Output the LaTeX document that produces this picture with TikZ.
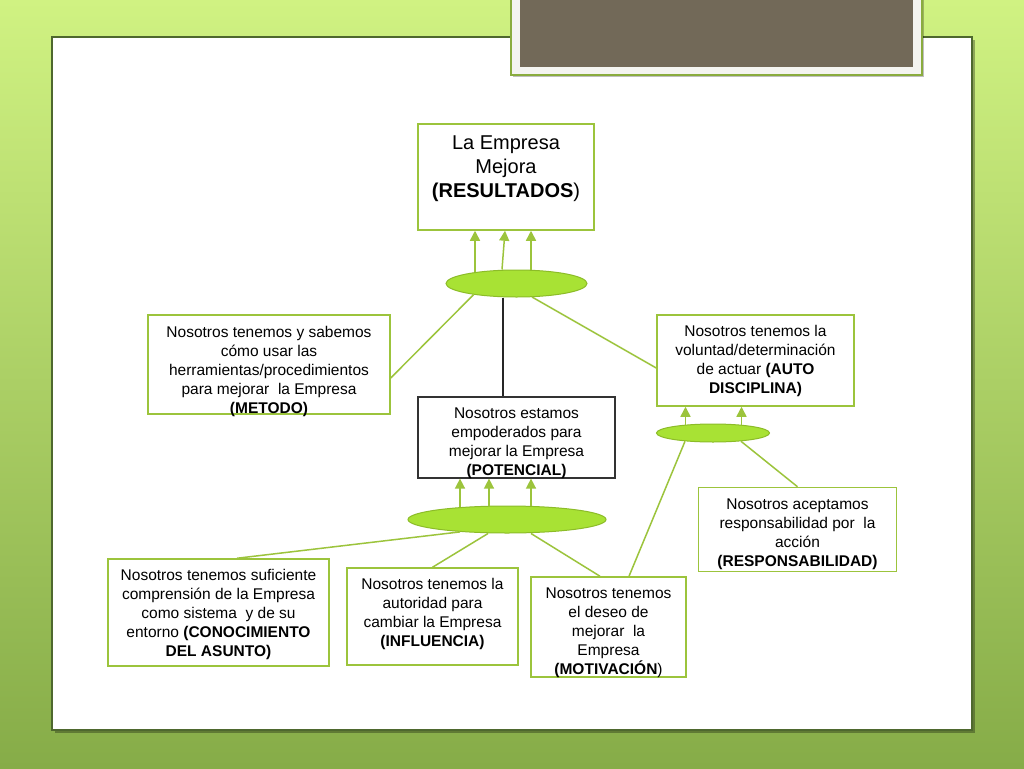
\documentclass[tikz,border=0pt]{standalone}
\usepackage{fontspec}
\setmainfont{Liberation Sans}
\usepackage{xcolor}
\usepackage{tikz}
\usetikzlibrary{
arrows.meta,
shapes.geometric,
calc
}

\definecolor{bgtop}{RGB}{208,242,130}
\definecolor{bgbottom}{RGB}{134,172,72}
\definecolor{panelline}{RGB}{78,104,46}
\definecolor{framegreen}{RGB}{138,172,62}
\definecolor{framewhite}{RGB}{244,244,240}
\definecolor{photo}{RGB}{114,105,88}
\definecolor{linegreen}{RGB}{156,196,60}
\definecolor{ovalfill}{RGB}{168,226,52}
\definecolor{ovalline}{RGB}{140,188,40}

\begin{document}
\begin{tikzpicture}[
x=1pt,y=-1pt,
box/.style={
draw=linegreen,
line width=1.5pt,
fill=white,
align=center,
inner sep=1pt,
font=\fontsize{15.5}{19}\selectfont
},
oval/.style={
ellipse,
draw=ovalline,
line width=1pt,
fill=ovalfill,
inner sep=0pt
},
arrow/.style={-{Triangle[width=10pt,length=10pt]},draw=linegreen,fill=linegreen,line width=1.5pt},
link/.style={draw=linegreen,line width=1.5pt}
]

\useasboundingbox (0,0) rectangle (1024,768);

% slide
\shade[top color=bgtop,bottom color=bgbottom] (0,0) rectangle (1024,768);
\fill[black,opacity=0.3] (55,40) rectangle (975,733);
\draw[fill=white,draw=panelline,line width=1.5pt] (52,37) rectangle (972,730);
\fill[black,opacity=0.25] (513,-5) rectangle (924,77);
\draw[fill=framewhite,draw=framegreen,line width=1.5pt] (511,-5) rectangle (922,75);
\fill[photo] (520,-5) rectangle (913,67);

% boxes
\node[box,minimum width=176pt,minimum height=106pt,font=\fontsize{20}{24}\selectfont] (res) at (506,177)
  {La Empresa\\ Mejora\\ \textbf{(RESULTADOS})\\[-2.5pt]\mbox{}};
\node[box,minimum width=242pt,minimum height=99pt] (met) at (269,364.5)
  {Nosotros tenemos y sabemos\\ cómo usar las\\ herramientas/procedimientos\\ para mejorar\ \ la Empresa\\ \textbf{(METODO)}\\[-29pt]\mbox{}};
\node[box,draw=black!80,line width=1.2pt,minimum width=197pt,minimum height=81pt] (pot) at (516.5,437.5)
  {Nosotros estamos\\ empoderados para\\ mejorar la Empresa\\ \textbf{(POTENCIAL)}\\[-28pt]\mbox{}};
\node[box,minimum width=197pt,minimum height=91pt] (aut) at (755.5,360.5)
  {Nosotros tenemos la\\ voluntad/determinación\\ de actuar \textbf{(AUTO}\\ \textbf{DISCIPLINA)}};
\node[box,minimum width=198pt,minimum height=84pt] (resp) at (797.5,529.5)
  {Nosotros aceptamos\\ responsabilidad por\ \ la\\ acción\\ \textbf{(RESPONSABILIDAD)}\\[-25pt]\mbox{}};
\node[box,minimum width=221pt,minimum height=107pt] (con) at (218.5,612.5)
  {Nosotros tenemos suficiente\\ comprensión de la Empresa\\ como sistema\ \ y de su\\ entorno \textbf{(CONOCIMIENTO}\\ \textbf{DEL ASUNTO)}\\[-20pt]\mbox{}};
\node[box,minimum width=171pt,minimum height=97pt] (inf) at (432.5,616.5)
  {Nosotros tenemos la\\ autoridad para\\ cambiar la Empresa\\ \textbf{(INFLUENCIA)}\\[-10pt]\mbox{}};
\node[box,minimum width=155pt,minimum height=100pt] (mot) at (608.5,627)
  {Nosotros tenemos\\ el deseo de\\ mejorar\ \ la\\ Empresa\\ \textbf{(MOTIVACIÓN})\\[-27pt]\mbox{}};

% ovals
\node[oval,minimum width=141pt,minimum height=27pt] (e1) at (516.5,283.5) {};
\node[oval,minimum width=113pt,minimum height=18pt] (e2) at (713,433) {};
\node[oval,minimum width=198pt,minimum height=27pt] (e3) at (507,519.5) {};

% arrows up
\draw[arrow] ([xshift=-41.5pt,yshift=-2.5pt]e1.north) -- ([xshift=-31pt]res.south);
\draw[arrow] ([xshift=-14.5pt]e1.north) -- ([xshift=-1pt]res.south);
\draw[arrow] ([xshift=14.5pt]e1.north) -- ([xshift=25pt]res.south);

\draw[arrow] ([xshift=-27.5pt,yshift=-1.2pt]e2.north) -- ([xshift=-70pt]aut.south);
\draw[arrow] ([xshift=28.5pt,yshift=-1.2pt]e2.north) -- ([xshift=-14pt]aut.south);

\draw[arrow] ([xshift=-47pt,yshift=-1.6pt]e3.north) -- ([xshift=-56.5pt]pot.south);
\draw[arrow] ([xshift=-18pt]e3.north) -- ([xshift=-27.5pt]pot.south);
\draw[arrow] ([xshift=24pt]e3.north) -- ([xshift=14.5pt]pot.south);

% links
\draw[link] ([xshift=-43pt,yshift=2.8pt]e1.south) -- ([yshift=-13.5pt]met.east);
\draw[black!85,line width=1.5pt] ([xshift=-13.5pt]e1.south) -- ([xshift=-13.5pt]pot.north);
\draw[link] ([xshift=15.5pt,yshift=0.5pt]e1.south) -- ([yshift=-7.5pt]aut.west);

\draw[link] ([xshift=-28pt,yshift=1.2pt]e2.south) -- ([xshift=20.5pt]mot.north);
\draw[link] ([xshift=28pt,yshift=1.2pt]e2.south) -- (resp.north);

\draw[link] ([xshift=-47pt,yshift=1.6pt]e3.south) -- ([xshift=18.5pt]con.north);
\draw[link] ([xshift=-19pt]e3.south) -- (inf.north);
\draw[link] ([xshift=24pt]e3.south) -- ([xshift=-8.5pt]mot.north);

\end{tikzpicture}
\end{document}
